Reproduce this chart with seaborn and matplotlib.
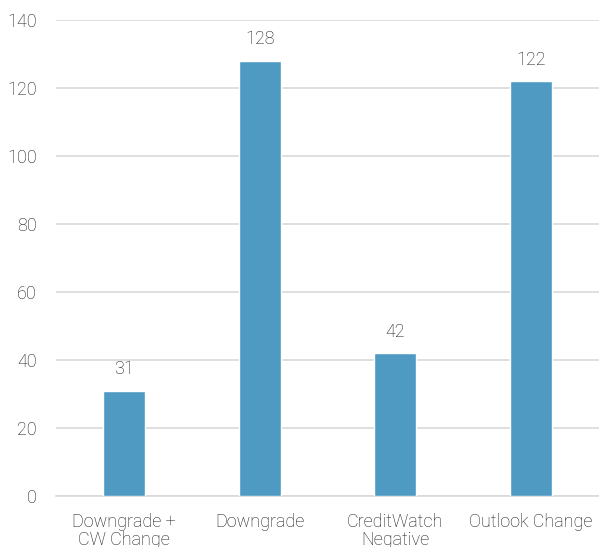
import matplotlib
matplotlib.use("Agg")
import matplotlib.pyplot as plt
import seaborn as sns
import pandas as pd

categories = ["Downgrade +\nCW Change", "Downgrade", "CreditWatch\nNegative", "Outlook Change"]
values = [31, 128, 42, 122]
yticks = [0, 20, 40, 60, 80, 100, 120, 140]

sns.set_theme(style="white")
plt.rcParams["font.family"] = ["Roboto", "DejaVu Sans"]
plt.rcParams["font.weight"] = "light"

df = pd.DataFrame({"cat": categories, "val": values})

fig = plt.figure(figsize=(5.99, 5.47), dpi=100)
ax = fig.add_axes([0.0935, 0.0932, 0.9065, 0.8705])
sns.barplot(data=df, x="cat", y="val", color="#4F9AC3", saturation=1, width=0.31, ax=ax, zorder=3)

ax.set_ylim(0, 140)
ax.set_yticks(yticks)
ax.set_xlim(-0.5, 3.5)
ax.grid(axis="y", color="#d9d9d9", linewidth=1.2, zorder=0)
ax.set_axisbelow(True)
for s in ["left", "right", "top"]:
    ax.spines[s].set_visible(False)
ax.spines["bottom"].set_color("#d9d9d9")
ax.spines["bottom"].set_linewidth(1.2)
ax.tick_params(axis="both", length=0, labelsize=13, colors="#1a1a1a")
ax.tick_params(axis="y", pad=14)
ax.tick_params(axis="x", pad=12)
ax.set_xlabel("")
ax.set_ylabel("")
for lbl in ax.get_xticklabels() + ax.get_yticklabels():
    lbl.set_linespacing(1.05)
    lbl.set_fontweight("light")

for c in ax.containers:
    ax.bar_label(c, labels=[str(v) for v in values], padding=9, fontsize=13,
                 color="#1a1a1a", fontweight="light")

fig.savefig("out.png", dpi=100)
